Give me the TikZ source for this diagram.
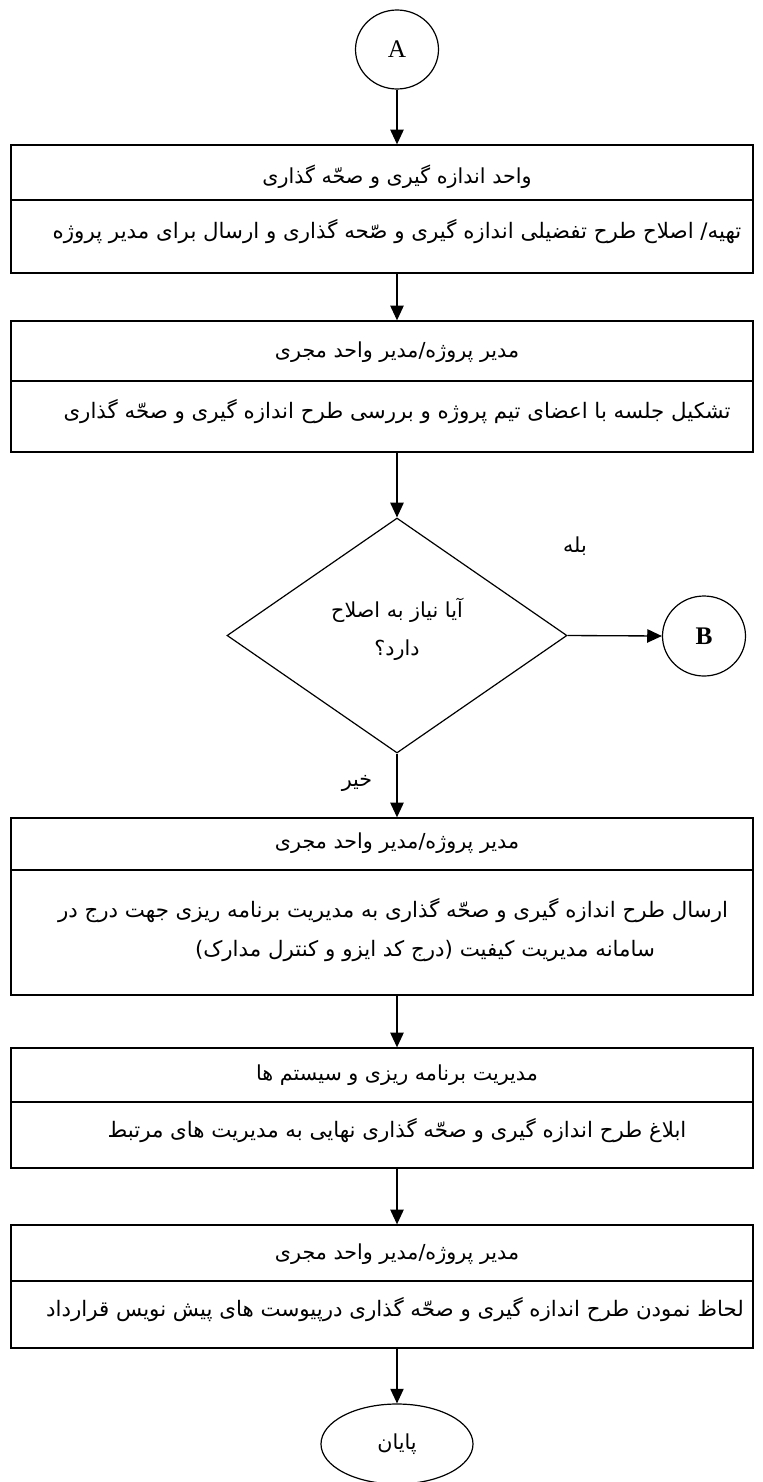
\documentclass[tikz,border=0pt]{standalone}
\usepackage{fontspec}
\setmainfont{Liberation Serif}
\newfontfamily\fa[Script=Arabic]{DejaVu Sans}
\TeXXeTstate=1
\usetikzlibrary{shapes.geometric,arrows.meta}
\begin{document}
\begin{tikzpicture}[x=0.75pt,y=-0.75pt,
  box/.style={draw, line width=1pt, rectangle, inner sep=0pt, minimum width=556.5pt},
  divline/.style={line width=1.5pt},
  arr/.style={-{Triangle[length=11pt,width=10pt]}, line width=1pt},
  conn/.style={draw, ellipse, line width=0.9pt, inner sep=0pt},
  fa/.style={font=\fa\fontsize{15.5}{18}\selectfont, inner sep=1pt},
  fb/.style={font=\fa\fontsize{16}{18}\selectfont, inner sep=1pt},
  dec/.style={draw, diamond, line width=0.9pt, inner sep=0pt, minimum width=255pt, minimum height=176.25pt}]
\useasboundingbox (0,0) rectangle (763,1482);
\clip (0,0) rectangle (763,1482);

% start connector
\node[conn, minimum width=62.25pt, minimum height=59.25pt] (A) at (397,49.5) {\fontsize{19}{19}\selectfont A};

% box 1
\node[box, minimum height=96pt] (b1) at (382,209) {};
\draw[divline] (11,200) -- (753,200);
\node[fa] (h1) at (397,177) {\beginR واحد اندازه گیری و صحّه گذاری\endR};
\node[fb] (t1) at (397,232) {\beginR تهیه/ اصلاح طرح تفضیلی اندازه گیری و صّحه گذاری و ارسال برای مدیر پروژه\endR};

% box 2
\node[box, minimum height=98.25pt] (b2) at (382,386.5) {};
\draw[divline] (11,381) -- (753,381);
\node[fa] (h2) at (397,352) {\beginR مدیر پروژه/مدیر واحد مجری\endR};
\node[fb] (t2) at (397,412) {\beginR تشکیل جلسه با اعضای تیم پروژه و بررسی طرح اندازه گیری و صحّه گذاری\endR};

% decision
\node[dec] (D) at (397,635.5) {};
\node[fa] (q1) at (397,610) {\beginR آیا نیاز به اصلاح\endR};
\node[fa] (q2) at (397,650) {\beginR دارد؟\endR};
\node[conn, minimum width=62.25pt, minimum height=60pt] (B) at (704,636) {\fontsize{19}{19}\selectfont\bfseries B};
\node[fa] (yes) at (575,546) {\beginR بله\endR};
\node[fa] (no) at (357,783) {\beginR خیر\endR};

% box 3
\node[box, minimum height=132.75pt] (b3) at (382,906.5) {};
\draw[divline] (11,870) -- (753,870);
\node[fa] (h3) at (397,843) {\beginR مدیر پروژه/مدیر واحد مجری\endR};
\node[fb] (t3a) at (393,911) {\beginR ارسال طرح اندازه گیری و صحّه گذاری به مدیریت برنامه ریزی جهت درج در\endR};
\node[fb] (t3b) at (425,951) {\beginR سامانه مدیریت کیفیت  (درج کد ایزو و کنترل مدارک)\endR};

% box 4
\node[box, minimum height=90pt] (b4) at (382,1108) {};
\draw[divline] (11,1102) -- (753,1102);
\node[fa] (h4) at (397,1075) {\beginR مدیریت برنامه ریزی و سیستم ها\endR};
\node[fb] (t4) at (397,1131) {\beginR ابلاغ طرح اندازه گیری و صحّه گذاری نهایی به مدیریت های مرتبط\endR};

% box 5
\node[box, minimum height=92.25pt] (b5) at (382,1286.5) {};
\draw[divline] (11,1281) -- (753,1281);
\node[fa] (h5) at (397,1254) {\beginR مدیر پروژه/مدیر واحد مجری\endR};
\node[fb] (t5) at (395,1310) {\beginR لحاظ نمودن طرح اندازه گیری و صحّه گذاری درپیوست های پیش نویس قرارداد\endR};

% end
\node[conn, minimum width=114pt, minimum height=60pt] (E) at (397,1444) {\fa\fontsize{15.5}{18}\selectfont\beginR پایان\endR};

% connectors
\draw[arr] (A.south) -- (A.south |- b1.north);
\draw[arr] (A |- b1.south) -- (A |- b2.north);
\draw[arr] (A |- b2.south) -- (D.north);
\draw[arr] (D.east) -- (B.west);
\draw[arr] (D.south) -- (D.south |- b3.north);
\draw[arr] (A |- b3.south) -- (A |- b4.north);
\draw[arr] (A |- b4.south) -- (A |- b5.north);
\draw[arr] (A |- b5.south) -- (E.north);
\end{tikzpicture}
\end{document}
